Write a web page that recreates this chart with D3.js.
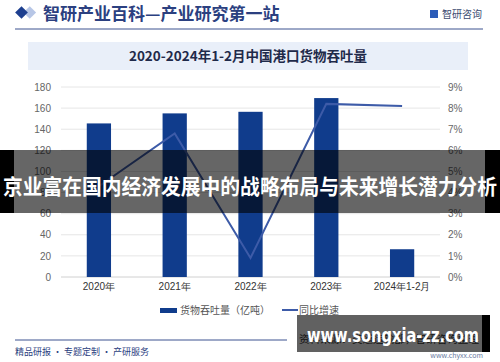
<!DOCTYPE html>
<html>
<head>
<meta charset="utf-8">
<script src="https://cdn.jsdelivr.net/npm/d3@7"></script>
<style>
  body { margin: 0; background: #fff; }
  svg { display: block; font-family: "Noto Sans CJK SC", "Noto Sans", sans-serif; }
</style>
</head>
<body>
<script>
// data
var years = ["2020年", "2021年", "2022年", "2023年", "2024年1-2月"];
var throughput = [145.5, 155, 156.5, 169.5, 26.3];   // 亿吨
var growth = [4.3, 6.8, 0.9, 8.2, 8.1];               // %
var leftTicks = [0, 20, 40, 60, 80, 100, 120, 140, 160, 180];
var rightTicks = [0, 1, 2, 3, 4, 5, 6, 7, 8, 9];

var W = 500, H = 362;
var margin = {top: 87, right: 60, bottom: 85, left: 61};

var svg = d3.select("body").append("svg")
    .attr("width", W)
    .attr("height", H);

// header
svg.append("rect").attr("x", 21).attr("y", 8).attr("width", 9).attr("height", 9)
   .attr("fill", "#b7c6e6")
   .attr("transform", "rotate(45 25.5 12.5) translate(3,-3)");
svg.append("rect").attr("x", 17).attr("y", 8).attr("width", 9).attr("height", 9)
   .attr("fill", "#1d3f8f")
   .attr("transform", "rotate(45 21.5 12.5)");
svg.append("text")
   .attr("x", 43).attr("y", 20)
   .style("font-size", "17px")
   .style("font-weight", "bold")
   .style("fill", "#2b4080")
   .text("智研产业百科—产业研究第一站");

svg.append("rect").attr("x", 430).attr("y", 10).attr("width", 8).attr("height", 8).attr("fill", "#2c5cb8");
svg.append("text")
   .attr("x", 442).attr("y", 18)
   .style("font-size", "10px")
   .style("fill", "#3a4a70")
   .text("智研咨询");

svg.append("line")
   .attr("x1", 15).attr("x2", 483).attr("y1", 29).attr("y2", 29)
   .attr("stroke", "#3d5290").attr("stroke-width", 1);

// title band
svg.append("rect")
   .attr("x", 28).attr("y", 42).attr("width", 440).attr("height", 28)
   .attr("fill", "#e9eff9");
svg.append("text")
   .attr("x", 248).attr("y", 61)
   .attr("text-anchor", "middle")
   .style("font-size", "13.5px")
   .style("font-weight", "bold")
   .style("fill", "#1f2a4a")
   .text("2020-2024年1-2月中国港口货物吞吐量");

// scales
var x = d3.scaleBand()
    .domain(years)
    .range([margin.left, W - margin.right])
    .paddingInner(0.68)
    .paddingOuter(0.34);

var y = d3.scaleLinear().domain([0, 180]).range([277, margin.top]);
var y2 = d3.scaleLinear().domain([0, 9]).range([277, margin.top]);

// gridlines
svg.append("g")
   .selectAll("line")
   .data(leftTicks)
   .enter()
   .append("line")
   .attr("x1", margin.left).attr("x2", W - margin.right)
   .attr("y1", function(d) { return y(d); })
   .attr("y2", function(d) { return y(d); })
   .attr("stroke", function(d) { return d == 0 ? "#d0d0d0" : "#e6e6e6"; })
   .attr("stroke-width", 1);

// left axis
var yAxis = svg.append("g")
   .attr("transform", "translate(" + (margin.left - 10) + ",0)")
   .call(d3.axisLeft(y).tickValues(leftTicks).tickSize(0).tickPadding(0));
yAxis.select(".domain").remove();
yAxis.selectAll("text").style("font-size", "10px").style("fill", "#666")
     .style("font-family", "Liberation Sans, Arial, sans-serif");

// right axis
var yAxis2 = svg.append("g")
   .attr("transform", "translate(" + (W - margin.right + 8) + ",0)")
   .call(d3.axisRight(y2).tickValues(rightTicks).tickSize(0).tickPadding(0)
         .tickFormat(function(d) { return d + "%"; }));
yAxis2.select(".domain").remove();
yAxis2.selectAll("text").style("font-size", "10px").style("fill", "#666")
      .style("font-family", "Liberation Sans, Arial, sans-serif");

// x axis labels
var xAxis = svg.append("g")
   .attr("transform", "translate(0,283)")
   .call(d3.axisBottom(x).tickSize(0).tickPadding(0));
xAxis.select(".domain").remove();
xAxis.selectAll("text").style("font-size", "10px").style("fill", "#333");

// bars
svg.append("g")
   .selectAll("rect")
   .data(throughput)
   .enter()
   .append("rect")
   .attr("x", function(d, i) { return x(years[i]); })
   .attr("y", function(d) { return y(d); })
   .attr("width", x.bandwidth())
   .attr("height", function(d) { return y(0) - y(d); })
   .attr("fill", "#103c8c");

// growth line
var line = d3.line()
    .x(function(d, i) { return x(years[i]) + x.bandwidth() / 2; })
    .y(function(d) { return y2(d); });

svg.append("path")
   .datum(growth)
   .attr("d", line)
   .attr("fill", "none")
   .attr("stroke", "#3d5ba8")
   .attr("stroke-width", 2);

// legend
var lg = svg.append("g").attr("transform", "translate(0,310)");
lg.append("rect").attr("x", 160).attr("y", -2).attr("width", 17).attr("height", 5).attr("fill", "#103c8c");
lg.append("text").attr("x", 180).attr("y", 4)
  .style("font-size", "10px").style("fill", "#555").text("货物吞吐量（亿吨）");
lg.append("line").attr("x1", 282).attr("x2", 298).attr("y1", 0).attr("y2", 0)
  .attr("stroke", "#3d5ba8").attr("stroke-width", 2);
lg.append("text").attr("x", 299).attr("y", 4)
  .style("font-size", "10px").style("fill", "#555").text("同比增速");

// footer
svg.append("line")
   .attr("x1", 15).attr("x2", 287).attr("y1", 340).attr("y2", 340)
   .attr("stroke", "#3d5290").attr("stroke-width", 1);
svg.append("text").attr("x", 15).attr("y", 355)
   .style("font-size", "9px").style("fill", "#2b4080")
   .text("精品研报 · 专题定制 · 产研服务");
svg.append("text").attr("x", 299).attr("y", 343)
   .attr("textLength", 180).attr("lengthAdjust", "spacingAndGlyphs")
   .style("font-size", "10px").style("fill", "#333")
   .text("资料来源：交通运输部，智研咨询整理");
svg.append("text").attr("x", 483).attr("y", 358).attr("text-anchor", "end")
   .style("font-size", "7px").style("fill", "#6a7aa0")
   .text("www.chyxx.com");

// overlay banner across the chart: black ends, translucent middle
svg.append("rect").attr("x", 0).attr("y", 150).attr("width", 14).attr("height", 63).attr("fill", "#000");
svg.append("rect").attr("x", 485).attr("y", 150).attr("width", 15).attr("height", 63).attr("fill", "#000");
svg.append("rect").attr("x", 14).attr("y", 150).attr("width", 471).attr("height", 63)
   .attr("fill", "#000").attr("fill-opacity", 0.6);
svg.append("text")
   .attr("x", 250).attr("y", 194)
   .attr("text-anchor", "middle")
   .attr("textLength", 494).attr("lengthAdjust", "spacingAndGlyphs")
   .style("font-size", "21px")
   .style("font-weight", "bold")
   .style("fill", "#fff")
   .text("京业富在国内经济发展中的战略布局与未来增长潜力分析");

// watermark site box: translucent, black right edge
svg.append("rect").attr("x", 482).attr("y", 315).attr("width", 8).attr("height", 37).attr("fill", "#000");
svg.append("rect").attr("x", 297).attr("y", 315).attr("width", 185).attr("height", 37)
   .attr("fill", "#000").attr("fill-opacity", 0.62);
svg.append("text")
   .attr("x", 307).attr("y", 342)
   .attr("textLength", 172).attr("lengthAdjust", "spacingAndGlyphs")
   .style("font-size", "19px")
   .style("font-weight", "bold")
   .style("font-family", "DejaVu Sans, sans-serif")
   .style("fill", "#fff")
   .text("www.songxia-zz.com");
</script>
</body>
</html>
